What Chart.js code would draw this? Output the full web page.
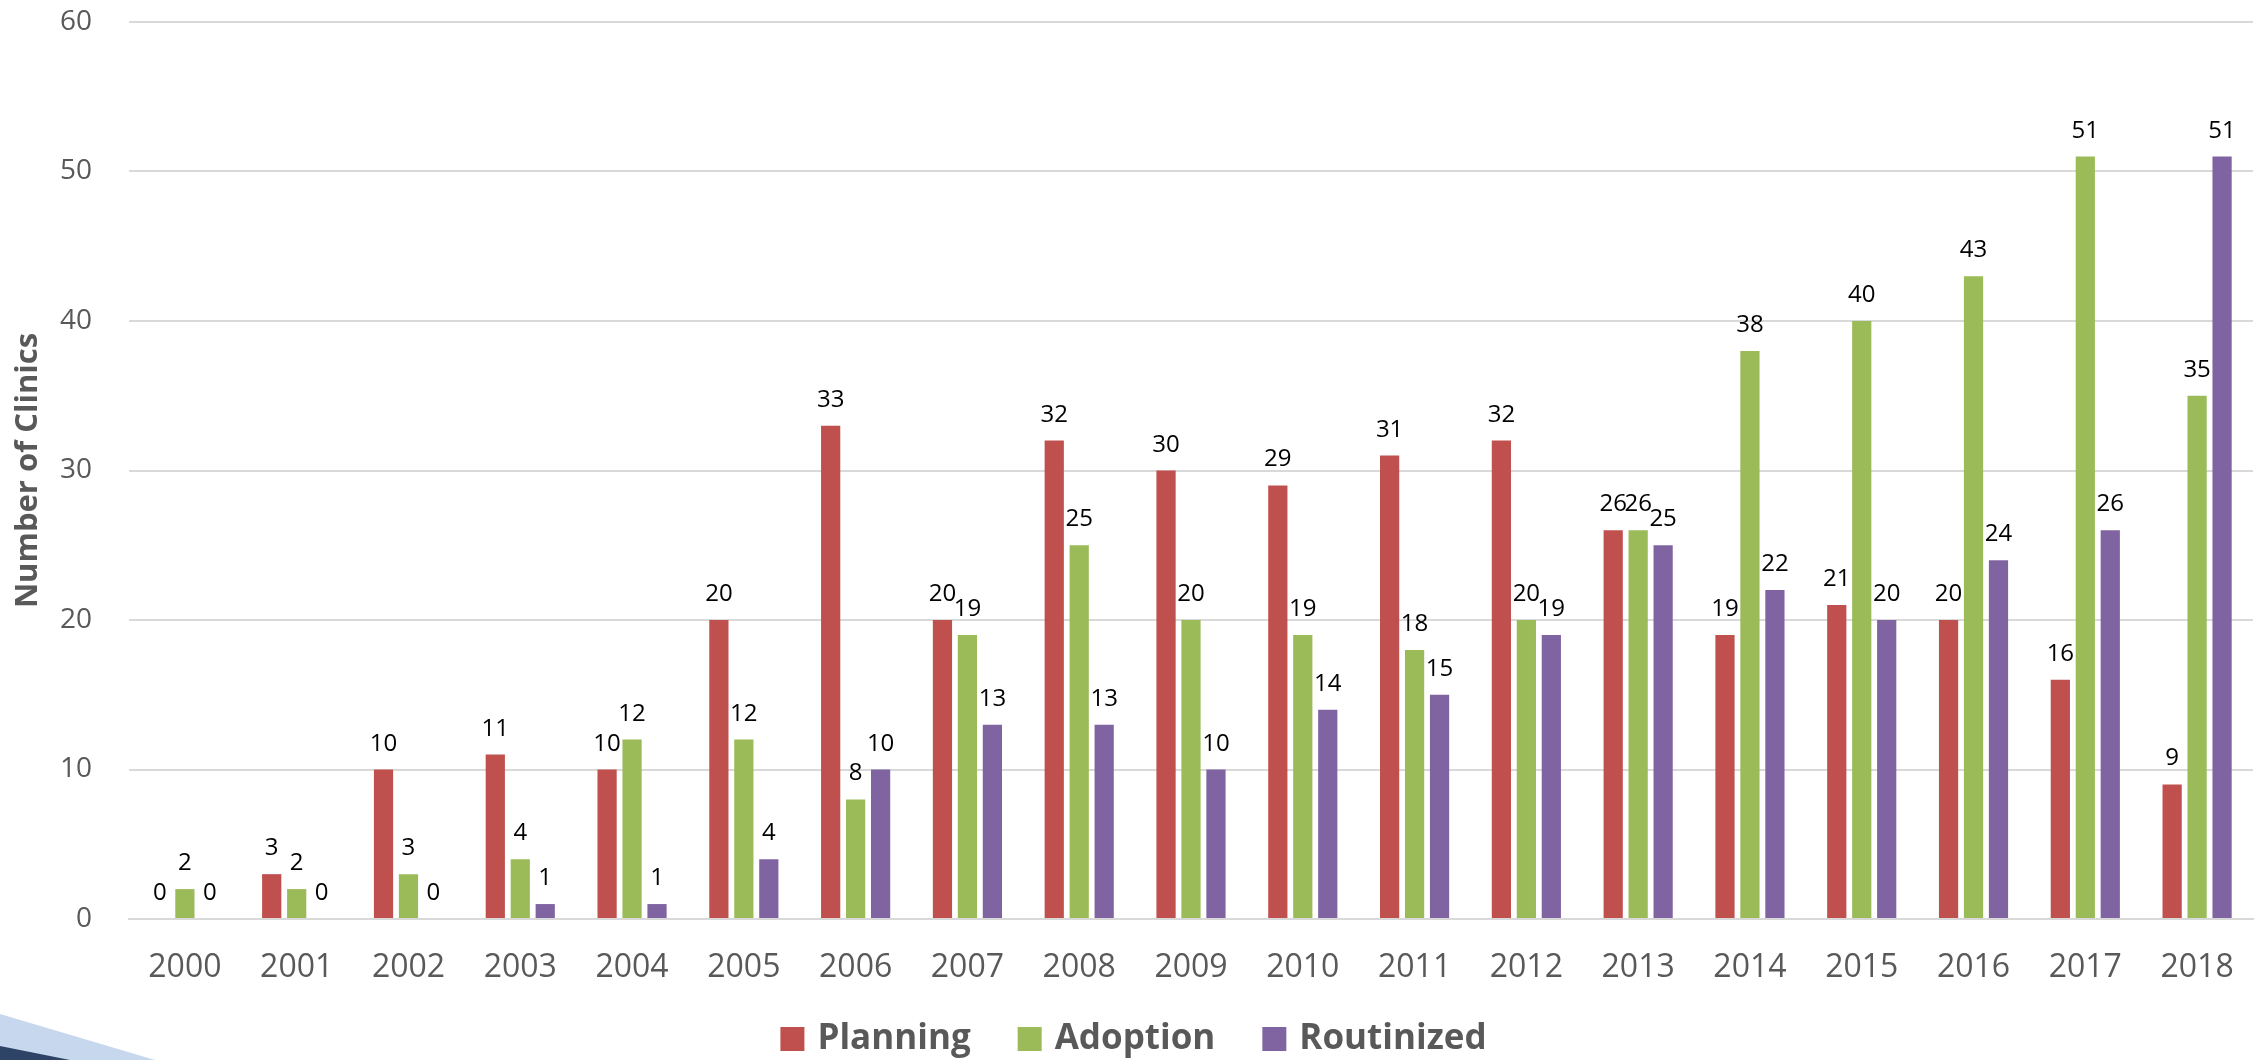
<!DOCTYPE html>
<html>
<head>
<meta charset="utf-8">
<title>Number of Clinics</title>
<script src="https://cdn.jsdelivr.net/npm/chart.js@4.4.1/dist/chart.umd.min.js"></script>
<style>
  html, body { margin: 0; padding: 0; background: #fff; }
  #wrap { position: relative; width: 2267px; height: 1060px; overflow: hidden; }
  #swoosh { position: absolute; left: 0; top: 0; }
</style>
</head>
<body>
<div id="wrap">
  <canvas id="clinicChart" width="2267" height="1060"></canvas>
  <!-- dekorace vlevo dole -->
  <svg id="swoosh" width="2267" height="1060">
    <polygon points="0,1014 155,1060 0,1060" fill="#c6d7ee"/>
    <polygon points="0,1046 70,1060 0,1060" fill="#2e4467"/>
  </svg>
</div>
<script>
const years = ["2000", "2001", "2002", "2003", "2004", "2005", "2006", "2007", "2008", "2009",
               "2010", "2011", "2012", "2013", "2014", "2015", "2016", "2017", "2018"];
const planning   = [0, 3, 10, 11, 10, 20, 33, 20, 32, 30, 29, 31, 32, 26, 19, 21, 20, 16, 9];
const adoption   = [2, 2, 3, 4, 12, 12, 8, 19, 25, 20, 19, 18, 20, 26, 38, 40, 43, 51, 35];
const routinized = [0, 0, 0, 1, 1, 4, 10, 13, 13, 10, 14, 15, 19, 25, 22, 20, 24, 26, 51];
const yTicks = [0, 10, 20, 30, 40, 50, 60];

// popisky hodnot nad sloupci
const valueLabels = {
  id: "valueLabels",
  afterDatasetsDraw(chart) {
    const ctx = chart.ctx;
    ctx.save();
    ctx.font = '24px "Open Sans"';
    ctx.fillStyle = "#000";
    ctx.textAlign = "center";
    ctx.textBaseline = "alphabetic";
    chart.data.datasets.forEach((ds, i) => {
      chart.getDatasetMeta(i).data.forEach((bar, j) => {
        ctx.fillText(String(ds.data[j]), bar.x, bar.y - 19);
      });
    });
    ctx.restore();
  }
};

// legenda dole uprostred (vlastni, kvuli rozestupum)
const bottomLegend = {
  id: "bottomLegend",
  afterDraw(chart) {
    const ctx = chart.ctx;
    const box = 24, gapText = 13, gapItem = 47, midY = 1039;
    ctx.save();
    ctx.font = 'bold 35px "Open Sans"';
    ctx.textBaseline = "middle";
    ctx.textAlign = "left";
    const items = chart.data.datasets.map(ds => ({
      text: ds.label, color: ds.backgroundColor, w: ctx.measureText(ds.label).width
    }));
    const total = items.reduce((s, it) => s + box + gapText + it.w, 0) + gapItem * (items.length - 1);
    let x = chart.width / 2 - total / 2;
    items.forEach(it => {
      ctx.fillStyle = it.color;
      ctx.fillRect(x, midY - box / 2, box, box);
      x += box + gapText;
      ctx.fillStyle = "#595959";
      ctx.fillText(it.text, x, midY);
      x += it.w + gapItem;
    });
    ctx.restore();
  }
};

function makeDataset(label, data, color) {
  return {
    label: label,
    data: data,
    backgroundColor: color,
    borderWidth: 0,
    categoryPercentage: 0.67,
    barPercentage: 0.77
  };
}

new Chart(document.getElementById("clinicChart"), {
  type: "bar",
  data: {
    labels: years,
    datasets: [
      makeDataset("Planning", planning, "#c0504d"),
      makeDataset("Adoption", adoption, "#9bbb59"),
      makeDataset("Routinized", routinized, "#8064a2")
    ]
  },
  options: {
    responsive: false,
    animation: false,
    layout: { padding: { top: 0, right: 14, left: 0, bottom: 0 } },
    plugins: {
      legend: { display: false },
      tooltip: { enabled: false }
    },
    scales: {
      x: {
        grid: { display: false },
        border: { color: "#d9d9d9", width: 2 },
        ticks: {
          font: { family: "Open Sans", size: 32 },
          color: "#595959",
          padding: 22,
          maxRotation: 0
        },
        afterFit: s => {
          s.height = 1060 - 919;
          s.paddingLeft = 0;
          s.paddingRight = 0;
        }
      },
      y: {
        min: 0,
        max: 60,
        afterBuildTicks: s => { s.ticks = yTicks.map(v => ({ value: v })); },
        grid: { color: "#d9d9d9", lineWidth: 2, drawTicks: false },
        border: { display: false },
        ticks: {
          font: { family: "Open Sans", size: 28 },
          color: "#595959",
          padding: 37
        },
        title: {
          display: true,
          text: "Number of Clinics",
          font: { family: "Open Sans", size: 31, weight: "bold" },
          color: "#595959",
          padding: { top: 10, bottom: 0 }
        },
        afterFit: s => {
          s.width = 129;
          s.paddingTop = 22;
          s.paddingBottom = 0;
        }
      }
    }
  },
  plugins: [valueLabels, bottomLegend]
});
</script>
</body>
</html>
